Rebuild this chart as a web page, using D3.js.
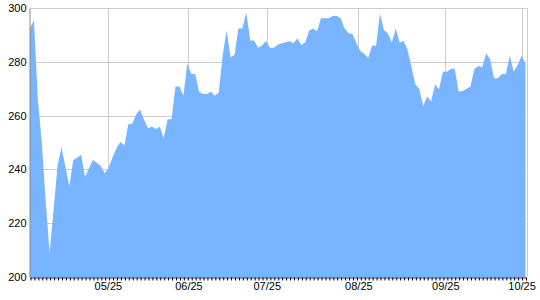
<!DOCTYPE html>
<html>
<head>
<meta charset="utf-8">
<script src="https://cdn.jsdelivr.net/npm/d3@7"></script>
<style>
    body { margin: 0; background: #fff; }
    text { font-family: "Liberation Sans", Arial, sans-serif; }
</style>
</head>
<body>
<div id="vis"></div>
<script>
// daily closes, one value per trading day
var values = [
    292.5, 295.5, 266.0, 250.0, 228.0, 209.0, 225.0, 241.3, 248.2, 241.0,
    233.6, 243.5, 244.3, 245.4, 237.1, 240.5, 243.5, 242.5, 241.3, 238.6,
    240.6, 244.5, 248.0, 250.3, 248.9, 256.8, 257.0, 260.5, 262.3, 258.5,
    255.3, 255.9, 255.0, 255.9, 251.6, 258.6, 258.6, 270.8, 270.8, 267.4,
    279.4, 275.5, 275.5, 268.9, 268.0, 268.0, 268.9, 267.4, 268.6, 282.5,
    291.6, 281.7, 282.5, 292.4, 292.4, 298.3, 287.9, 287.9, 285.2, 286.1,
    287.7, 285.2, 285.2, 286.3, 286.9, 287.2, 287.7, 286.9, 288.7, 286.2,
    287.2, 291.6, 292.4, 291.4, 296.2, 296.2, 296.2, 297.0, 297.1, 296.2,
    292.4, 290.6, 290.3, 286.9, 284.0, 283.0, 281.4, 286.0, 286.0, 298.0,
    291.8, 290.6, 287.2, 292.4, 287.2, 287.7, 284.6, 278.2, 271.6, 269.9,
    263.6, 267.1, 265.2, 271.7, 269.8, 276.3, 276.3, 277.3, 277.5, 268.9,
    269.1, 270.0, 270.8, 277.3, 278.4, 278.0, 283.2, 280.9, 273.9, 273.9,
    275.5, 275.5, 282.3, 276.3, 278.8, 282.2, 279.4
];

// month labels and where they fall (in trading-day index)
var tickLabels = [ "05/25", "06/25", "07/25", "08/25", "09/25", "10/25" ];
var tickIndex = [ 19.8, 40.3, 60.2, 83.5, 105.6, 125.0 ];

var yTicks = [ 200, 220, 240, 260, 280, 300 ];

var width = 540, height = 300;
var margin = { top: 8, right: 14.5, bottom: 23, left: 30 };

var x = d3.scaleLinear()
    .domain( [ 0, values.length - 1 ] )
    .range( [ margin.left, width - margin.right ] );

var y = d3.scaleLinear()
    .domain( [ 200, 300 ] )
    .range( [ height - margin.bottom, margin.top ] );

var svg = d3.select( "#vis" ).append( "svg" )
    .attr( "width", width )
    .attr( "height", height );

function crisp( v ) { return Math.round( v ) + 0.5; }

// grid lines
svg.append( "g" ).selectAll( "line.h" )
    .data( yTicks )
    .enter().append( "line" )
    .attr( "x1", margin.left )
    .attr( "x2", width - margin.right + 1 )
    .attr( "y1", function( d ) { return crisp( y( d ) ); } )
    .attr( "y2", function( d ) { return crisp( y( d ) ); } )
    .style( "stroke", "#cccccc" );

svg.append( "g" ).selectAll( "line.v" )
    .data( tickIndex )
    .enter().append( "line" )
    .attr( "x1", function( d ) { return crisp( x( d ) ); } )
    .attr( "x2", function( d ) { return crisp( x( d ) ); } )
    .attr( "y1", y( 300 ) )
    .attr( "y2", y( 200 ) )
    .style( "stroke", "#cccccc" );

// the area
var area = d3.area()
    .x( function( d, i ) { return x( i ); } )
    .y0( y( 200 ) )
    .y1( function( d ) { return y( d ); } );

svg.append( "path" )
    .datum( values )
    .attr( "d", area )
    .style( "fill", "#78b4ff" );

// right frame
svg.append( "line" )
    .attr( "x1", crisp( width - margin.right + 1 ) )
    .attr( "x2", crisp( width - margin.right + 1 ) )
    .attr( "y1", y( 300 ) )
    .attr( "y2", y( 200 ) )
    .style( "stroke", "#cccccc" );

// small ticks, one per day
var minor = svg.append( "g" )
    .attr( "transform", "translate(0," + crisp( y( 200 ) ) + ")" )
    .call( d3.axisBottom( x ).tickValues( d3.range( values.length ) ).tickSize( 3 ).tickSizeOuter( 0 ).tickFormat( "" ) );
minor.select( ".domain" ).style( "stroke", "#444" );
minor.selectAll( ".tick line" ).style( "stroke", "#000" ).attr( "transform", "translate(0.5,0)" );

// x axis labels
var xAxis = svg.append( "g" )
    .attr( "transform", "translate(0," + crisp( y( 200 ) ) + ")" )
    .call( d3.axisBottom( x ).tickValues( tickIndex ).tickSize( 0 ).tickPadding( 5 )
        .tickFormat( function( d, i ) { return tickLabels[ i ]; } ) );
xAxis.select( ".domain" ).remove();
xAxis.selectAll( "text" )
    .style( "font-size", "11px" )
    .style( "fill", "#000" );

// y axis
var yAxis = svg.append( "g" )
    .attr( "transform", "translate(" + ( margin.left - 0.5 ) + ",0)" )
    .call( d3.axisLeft( y ).tickValues( yTicks ).tickSize( 0 ).tickSizeOuter( 0 ).tickPadding( 3 ) );
yAxis.select( ".domain" ).style( "stroke", "#888" );
yAxis.selectAll( "text" )
    .style( "font-size", "11px" )
    .style( "fill", "#000" );
</script>
</body>
</html>
